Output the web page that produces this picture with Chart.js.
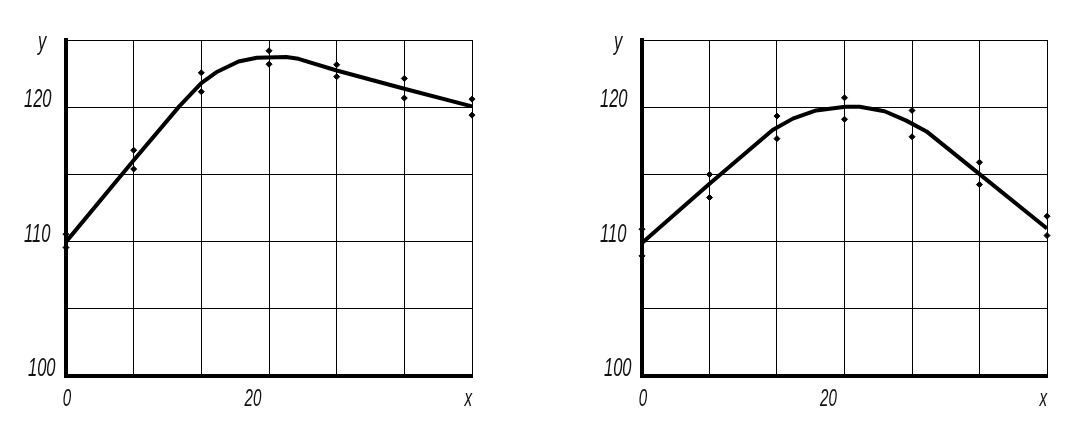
<!DOCTYPE html>
<html>
<head>
<meta charset="utf-8">
<script src="https://cdn.jsdelivr.net/npm/chart.js@4"></script>
<style>
  html,body{margin:0;padding:0;background:#fff;}
  #wrap{position:relative;width:1092px;height:427px;}
  canvas{position:absolute;top:0;}
  #chartLeft{left:0;}
  #chartRight{left:546px;}
</style>
</head>
<body>
<div id="wrap">
  <canvas id="chartLeft" width="546" height="427"></canvas>
  <canvas id="chartRight" width="546" height="427"></canvas>
</div>
<script>
// ===== Datos =====
const xTicks = [0, 6.67, 13.33, 20, 26.67, 33.33, 40];
const yTicks = [100, 105, 110, 115, 120, 125];
const yTickLabels = ['100', '110', '120'];   // solo se rotulan 100, 110, 120
const xTickLabels = ['0', '20'];
const xTitle = 'x';
const yTitle = 'y';

// puntos medidos (dos por cada x)
const measureX = [0, 6.67, 13.33, 20, 26.67, 33.33, 40];

const leftUpper = [110.55, 116.8, 122.56, 124.2, 123.16, 122.14, 120.6];
const leftLower = [109.56, 115.4, 121.15, 123.2, 122.27, 120.68, 119.41];
const leftCurveX = [0, 6.67, 11.2, 13.33, 14.8, 17, 18.8, 21.7, 22.9, 26.67, 33.33, 40];
const leftCurveY = [109.98, 116.05, 120.1, 121.8, 122.6, 123.4, 123.68, 123.73, 123.6, 122.73, 121.37, 120.06];

const rightUpper = [110.92, 115.0, 119.34, 120.7, 119.76, 115.9, 111.89];
const rightLower = [108.94, 113.28, 117.66, 119.1, 117.8, 114.24, 110.45];
const rightCurveX = [0, 6.67, 12.9, 14.9, 17.2, 20.08, 21.5, 23.96, 26.1, 28.1, 33.4, 40];
const rightCurveY = [109.9, 114.3, 118.3, 119.15, 119.76, 120.04, 120.04, 119.7, 119.0, 118.2, 114.98, 110.97];

// ===== Utils =====
const toXY = (xs, ys) => xs.map((x, i) => ({x, y: ys[i]}));

// rótulos en cursiva estrecha
function drawLabel(ctx, text, x, y, size, align){
  ctx.save();
  ctx.font = `italic ${size}px "Liberation Sans", Arial, sans-serif`;
  ctx.fillStyle = '#111';
  ctx.textBaseline = 'alphabetic';
  const sx = 0.66;
  const w = ctx.measureText(text).width * sx;
  let left = x;
  if(align === 'center') left = x - w / 2;
  if(align === 'right') left = x - w;
  ctx.translate(left, y);
  ctx.scale(sx, 1);
  ctx.fillText(text, 0, 0);
  ctx.restore();
}

const xLabelShift = {'0': 1, '20': -16};

const labelsPlugin = {
  id: 'axisLabels',
  afterDraw(chart){
    const {ctx, scales:{x, y}} = chart;
    const ax = x.getPixelForValue(0);
    yTickLabels.forEach(t => {
      const v = parseFloat(t);
      drawLabel(ctx, t, ax - 42 + (v === 100 ? 4 : 0), y.getPixelForValue(v), 25, 'left');
    });
    drawLabel(ctx, yTitle, ax - 28, y.getPixelForValue(125) + 10, 25, 'left');
    xTickLabels.forEach(t => {
      const v = parseFloat(t);
      drawLabel(ctx, t, x.getPixelForValue(v) + xLabelShift[t], 406, 23, 'center');
    });
    drawLabel(ctx, xTitle, x.getPixelForValue(40), 406, 23, 'right');
  }
};

function buildChart(id, upper, lower, cx, cy, padding){
  const pointStyle = {
    showLine: false, pointStyle: 'rectRot', pointRadius: 3, pointHoverRadius: 3,
    backgroundColor: '#000', borderColor: '#000', borderWidth: 1, clip: false
  };
  return new Chart(document.getElementById(id), {
    type: 'scatter',
    data: {
      datasets: [
        {label: 'curva', data: toXY(cx, cy), showLine: true, borderColor: '#000', borderWidth: 4,
         pointRadius: 0, tension: 0, fill: false, clip: false, borderJoinStyle: 'round'},
        {label: 'sup', data: toXY(measureX, upper), ...pointStyle},
        {label: 'inf', data: toXY(measureX, lower), ...pointStyle}
      ]
    },
    options: {
      responsive: false,
      animation: false,
      layout: {padding},
      plugins: {legend: {display: false}, tooltip: {enabled: false}},
      scales: {
        x: {
          type: 'linear', min: 0, max: 40,
          afterBuildTicks: s => { s.ticks = xTicks.map(v => ({value: v})); },
          ticks: {display: false},
          grid: {color: '#000', lineWidth: 1, drawTicks: false},
          border: {display: true, color: '#000', width: 4}
        },
        y: {
          type: 'linear', min: 100, max: 125,
          afterBuildTicks: s => { s.ticks = yTicks.map(v => ({value: v})); },
          ticks: {display: false},
          grid: {color: '#000', lineWidth: 1, drawTicks: false},
          border: {display: true, color: '#000', width: 4}
        }
      }
    },
    plugins: [labelsPlugin]
  });
}

buildChart('chartLeft', leftUpper, leftLower, leftCurveX, leftCurveY,
  {left: 66, right: 74, top: 40, bottom: 51});
buildChart('chartRight', rightUpper, rightLower, rightCurveX, rightCurveY,
  {left: 96, right: 45, top: 40, bottom: 51});
</script>
</body>
</html>
